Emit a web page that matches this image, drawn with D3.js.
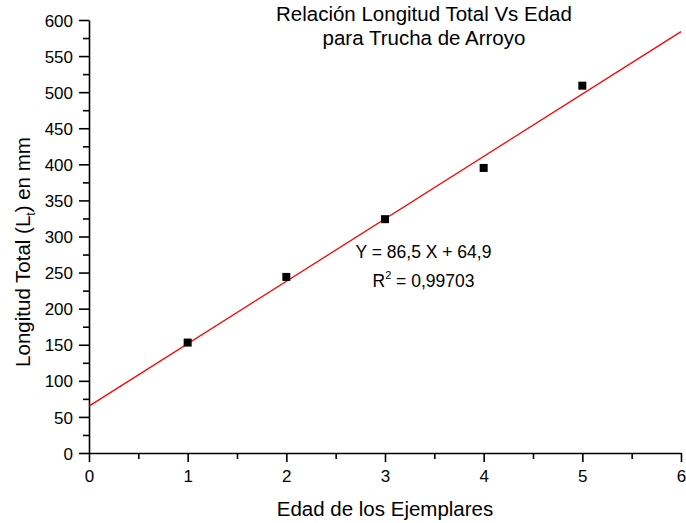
<!DOCTYPE html>
<html>
<head>
<meta charset="utf-8">
<script src="https://cdn.jsdelivr.net/npm/d3@7"></script>
<style>
  body { margin: 0; background: #fff; }
  svg text { font-family: "Liberation Sans", Arial, sans-serif; fill: #000; }
</style>
</head>
<body>
<div id="chart"></div>
<script>
// edad (años) y longitud total (mm)
const edades = [1, 2, 3, 4, 5];
const longitudes = [153, 244, 324, 395, 509];
const pendiente = 86.5;
const intercepto = 64.9;
const xTicks = [0, 1, 2, 3, 4, 5, 6];
const yTicks = [0, 50, 100, 150, 200, 250, 300, 350, 400, 450, 500, 550, 600];

const W = 686, H = 523;
const margin = { top: 20, right: 5, bottom: 70, left: 89 };
const width = W - margin.left - margin.right;
const height = H - margin.top - margin.bottom;

const svg = d3.select('#chart')
  .append('svg')
    .attr('width', W)
    .attr('height', H)
  .append('g')
    .attr('transform', `translate(${margin.left},${margin.top})`);

const x = d3.scaleLinear().domain([0, 6]).range([0, width]);
const y = d3.scaleLinear().domain([0, 600]).range([height, 0]);

// minor ticks
const xMinor = d3.axisBottom(x).tickValues(d3.range(0.5, 6, 1)).tickSize(6).tickFormat('');
const yMinor = d3.axisLeft(y).tickValues(d3.range(25, 600, 50)).tickSize(6).tickFormat('');

svg.append('g')
    .attr('transform', `translate(0,${height})`)
    .call(xMinor)
    .call(g => g.select('.domain').remove());
svg.append('g')
    .call(yMinor)
    .call(g => g.select('.domain').remove());

const xAxis = svg.append('g')
    .attr('transform', `translate(0,${height})`)
    .call(d3.axisBottom(x).tickValues(xTicks).tickFormat(d3.format('d'))
      .tickSize(9).tickSizeOuter(0).tickPadding(8));
const yAxis = svg.append('g')
    .call(d3.axisLeft(y).tickValues(yTicks).tickFormat(d3.format('d'))
      .tickSize(10).tickSizeOuter(0).tickPadding(6));

svg.selectAll('.domain, .tick line').attr('stroke', '#000').attr('stroke-width', 1.6);
svg.selectAll('.tick text').style('font-size', '17px').attr('fill', '#000');
yAxis.selectAll('.tick text').attr('dy', '0.36em');

// regression line
svg.append('line')
    .attr('x1', x(0)).attr('y1', y(intercepto))
    .attr('x2', x(6)).attr('y2', y(pendiente * 6 + intercepto))
    .attr('stroke', '#ff0000')
    .attr('stroke-width', 1.3);

// points
svg.append('g')
  .selectAll('rect')
  .data(edades.map((e, i) => ({ e, l: longitudes[i] })))
  .join('rect')
    .attr('x', d => x(d.e) - 4)
    .attr('y', d => y(d.l) - 4)
    .attr('width', 8)
    .attr('height', 8)
    .attr('fill', '#000');

// title
const title = svg.append('text')
    .attr('text-anchor', 'middle')
    .style('font-size', '20.5px');
title.append('tspan').attr('x', x(3.395)).attr('y', 1).text('Relación Longitud Total Vs Edad');
title.append('tspan').attr('x', x(3.395)).attr('y', 25).text('para Trucha de Arroyo');

// equation
svg.append('text')
    .attr('x', x(3.39)).attr('y', 238)
    .attr('text-anchor', 'middle')
    .style('font-size', '17.5px')
    .text('Y = 86,5 X + 64,9');
const r2 = svg.append('text')
    .attr('x', x(3.39)).attr('y', 267)
    .attr('text-anchor', 'middle')
    .style('font-size', '17.5px');
r2.append('tspan').text('R');
r2.append('tspan').attr('dy', -8).style('font-size', '11px').text('2');
r2.append('tspan').attr('dy', 8).text(' = 0,99703');

// axis titles
svg.append('text')
    .attr('x', x(3)).attr('y', height + 63)
    .attr('text-anchor', 'middle')
    .style('font-size', '20.5px')
    .text('Edad de los Ejemplares');

const yl = svg.append('text')
    .attr('transform', `translate(${-59},232) rotate(-90)`)
    .attr('text-anchor', 'middle')
    .style('font-size', '20.5px');
yl.append('tspan').text('Longitud Total (L');
yl.append('tspan').attr('dy', 5).style('font-size', '12px').text('t');
yl.append('tspan').attr('dy', -5).text(') en mm');
</script>
</body>
</html>
